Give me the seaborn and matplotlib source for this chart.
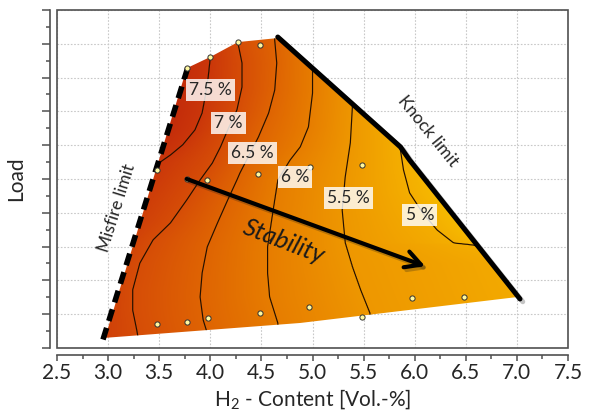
import numpy as np
import matplotlib
matplotlib.use("Agg")
import matplotlib.pyplot as plt
import matplotlib.patheffects as pe
import seaborn as sns
import pandas as pd
from matplotlib.colors import LinearSegmentedColormap, Normalize
from matplotlib.patches import Polygon, Rectangle
from matplotlib.ticker import MultipleLocator, FormatStrFormatter, NullFormatter

# operating range (H2 content vs. load)
range_x = [2.97, 3.77, 4.00, 4.27, 4.66, 5.86, 5.95, 7.01, 4.88]
range_y = [0.30, 8.28, 8.61, 9.05, 9.17, 5.95, 5.56, 1.51, 0.74]

misfire_x = [2.95, 3.78]
misfire_y = [0.25, 8.30]
knock_x = [4.66, 5.86, 5.95, 7.03]
knock_y = [9.20, 5.95, 5.56, 1.45]

# iso lines (x at a given load); end points outside the range only steer the fill
levels = [7.5, 7.0, 6.5, 6.0, 5.5, 5.0]
iso_75_x = [2.70, 2.85, 3.25, 3.51, 3.61, 3.73, 3.85, 3.92, 3.95, 3.98, 4.00, 4.00]
iso_75_y = [0.00, 2.50, 4.50, 5.50, 5.71, 6.01, 6.45, 6.95, 7.43, 8.02, 8.58, 10.0]
iso_70_x = [3.30, 3.29, 3.28, 3.24, 3.24, 3.31, 3.44, 3.61, 3.77, 3.90, 4.02, 4.10, 4.17, 4.26, 4.31, 4.31, 4.27, 4.27]
iso_70_y = [0.00, 0.36, 0.53, 1.12, 1.72, 2.51, 3.20, 3.70, 4.38, 4.97, 5.47, 5.95, 6.45, 7.04, 7.72, 8.43, 9.02, 10.0]
iso_65_x = [3.98, 3.97, 3.93, 3.90, 3.92, 3.97, 4.07, 4.17, 4.26, 4.29, 4.37, 4.47, 4.57, 4.63, 4.65, 4.63, 4.63]
iso_65_y = [0.00, 0.44, 0.83, 1.51, 2.22, 2.99, 3.70, 4.38, 4.97, 5.18, 5.65, 6.24, 6.95, 7.63, 8.43, 9.11, 10.0]
iso_60_x = [4.68, 4.66, 4.58, 4.56, 4.56, 4.61, 4.66, 4.78, 4.88, 4.96, 5.00, 5.00, 5.00]
iso_60_y = [0.00, 0.74, 1.51, 2.22, 2.99, 3.99, 4.97, 5.56, 5.95, 6.54, 7.54, 8.28, 10.0]
iso_55_x = [5.60, 5.56, 5.47, 5.39, 5.32, 5.29, 5.32, 5.37, 5.39, 5.40]
iso_55_y = [0.00, 1.04, 1.72, 2.40, 3.11, 4.08, 5.06, 6.07, 7.13, 10.0]
iso_50_x = [7.60, 7.20, 6.57, 6.38, 6.22, 6.08, 5.95, 5.89, 5.86, 5.80, 5.70]
iso_50_y = [0.00, 2.50, 3.05, 3.11, 3.49, 3.99, 4.59, 5.27, 5.86, 7.00, 10.0]

# measured operating points
meas_x = [4.27, 4.49, 3.77, 4.00, 3.48, 3.77, 3.97, 4.47, 4.98, 5.48,
          3.48, 3.77, 3.98, 4.49, 4.97, 5.48, 5.97, 6.48]
meas_y = [9.05, 8.96, 8.28, 8.61, 5.27, 5.00, 4.97, 5.15, 5.36, 5.41,
          0.71, 0.77, 0.89, 1.04, 1.21, 0.92, 1.48, 1.51]

label_text = ["7.5 %", "7 %", "6.5 %", "6 %", "5.5 %", "5 %"]
label_x = [4.00, 4.18, 4.41, 4.83, 5.35, 6.05]
label_y = [7.63, 6.66, 5.77, 5.06, 4.44, 3.93]

arrow_start = (3.77, 5.00)
arrow_end = (6.10, 2.42)

sns.set_theme(style="ticks")
plt.rcParams['font.family'] = ['Lato', 'DejaVu Sans']
plt.rcParams['mathtext.fontset'] = 'custom'
plt.rcParams['mathtext.rm'] = 'Lato'

fig = plt.figure(figsize=(5.92, 4.16), dpi=100)
ax = fig.add_axes([0.0963, 0.1635, 0.8632, 0.8125])

# field rebuilt from the iso lines, row by row
iso = [(iso_75_x, iso_75_y), (iso_70_x, iso_70_y), (iso_65_x, iso_65_y),
       (iso_60_x, iso_60_y), (iso_55_x, iso_55_y), (iso_50_x, iso_50_y)]
gx = np.linspace(2.5, 7.5, 600)
gy = np.linspace(0, 10, 500)
Z = np.empty((len(gy), len(gx)))
for i, yy in enumerate(gy):
    xs = [np.interp(yy, ly, lx) for lx, ly in iso]
    xs = [xs[0] - 0.6] + xs + [xs[-1] + 0.6]
    vals = [8.1] + levels + [4.5]
    Z[i] = np.interp(gx, xs, vals)

cmap = LinearSegmentedColormap.from_list("stab", [
    (0.0, "#f9c800"), (0.5 / 3.6, "#f4ae00"), (1.0 / 3.6, "#ee9700"),
    (1.5 / 3.6, "#e77d00"), (2.0 / 3.6, "#df6403"), (2.5 / 3.6, "#d64d07"),
    (3.0 / 3.6, "#cb370a"), (1.0, "#bb200c")])

region = Polygon(np.column_stack([range_x, range_y]), closed=True,
                 facecolor='none', edgecolor='none')
ax.add_patch(region)

im = ax.imshow(Z, extent=[2.5, 7.5, 0, 10], origin='lower', aspect='auto',
               cmap=cmap, norm=Normalize(4.5, 8.1), interpolation='bilinear', zorder=2)
im.set_clip_path(region)

X, Y = np.meshgrid(gx, gy)
cs = ax.contour(X, Y, Z, levels=sorted(levels), colors='#241000', linewidths=0.85, zorder=3)
cs.set_clip_path(region)

# limits
shadow = [pe.SimpleLineShadow(offset=(2, -2), alpha=0.25), pe.Normal()]
ax.plot(misfire_x, misfire_y, color='black', lw=4, dashes=(2.2, 1.3),
        solid_capstyle='round', zorder=5)
ax.plot(knock_x, knock_y, color='black', lw=3.6, solid_capstyle='round',
        path_effects=shadow, zorder=5)

sns.scatterplot(x=meas_x, y=meas_y, ax=ax, s=14, color='#fff8a0',
                edgecolor='#333333', linewidth=0.7, zorder=6)

for t, lx, ly in zip(label_text, label_x, label_y):
    ax.text(lx, ly, t, ha='center', va='center', fontsize=12.5, color='#262626', zorder=7,
            bbox=dict(boxstyle='square,pad=0.18', fc='white', ec='none', alpha=0.82))

ax.annotate('', xy=arrow_end, xytext=arrow_start, zorder=7,
            arrowprops=dict(arrowstyle='->,head_length=0.55,head_width=0.3',
                            lw=3, color='black', mutation_scale=20, shrinkA=0, shrinkB=0,
                            path_effects=shadow))

ax.text(4.72, 3.14, "Stability", rotation=-21, style='italic', fontsize=18,
        ha='center', va='center', color='#1a1a1a', zorder=7)
ax.text(3.08, 4.15, "Misfire limit", rotation=72.7, fontsize=12.5,
        ha='center', va='center', color='#262626', zorder=7)
ax.text(6.13, 6.42, "Knock limit", rotation=-51, fontsize=12.5,
        ha='center', va='center', color='#262626', zorder=7)

ax.set_xlim(2.5, 7.5)
ax.set_ylim(0, 10)
ax.xaxis.set_major_locator(MultipleLocator(0.5))
ax.xaxis.set_minor_locator(MultipleLocator(0.25))
ax.xaxis.set_major_formatter(FormatStrFormatter('%.1f'))
ax.yaxis.set_major_locator(MultipleLocator(1))
ax.yaxis.set_minor_locator(MultipleLocator(0.5))
ax.yaxis.set_major_formatter(NullFormatter())

ax.grid(True, which='major', color='#c8c8c8', lw=0.8, ls=(0, (1.5, 1.5)), zorder=0)
ax.set_axisbelow(True)

sns.despine(ax=ax, offset=5)
for s in ['left', 'bottom']:
    ax.spines[s].set_color('#505050')
    ax.spines[s].set_linewidth(1.2)
ax.add_patch(Rectangle((0, 0), 1, 1, transform=ax.transAxes, fill=False,
                       lw=1.2, ec='#505050', clip_on=False, zorder=10))

ax.tick_params(axis='x', which='major', length=4.5, width=1.1, color='#505050',
               labelsize=15, labelcolor='#262626', pad=1.5)
ax.tick_params(axis='x', which='minor', length=3, width=1.1, color='#505050')
ax.tick_params(axis='y', which='major', length=6, width=1.1, color='#505050')
ax.tick_params(axis='y', which='minor', length=3, width=1.1, color='#505050')

ax.set_xlabel(r"H$_\mathregular{2}$ - Content [Vol.-%]", fontsize=15, color='#262626', labelpad=3)
ax.set_ylabel("Load", fontsize=15, color='#262626', labelpad=8)

fig.savefig("out.png", dpi=100)
